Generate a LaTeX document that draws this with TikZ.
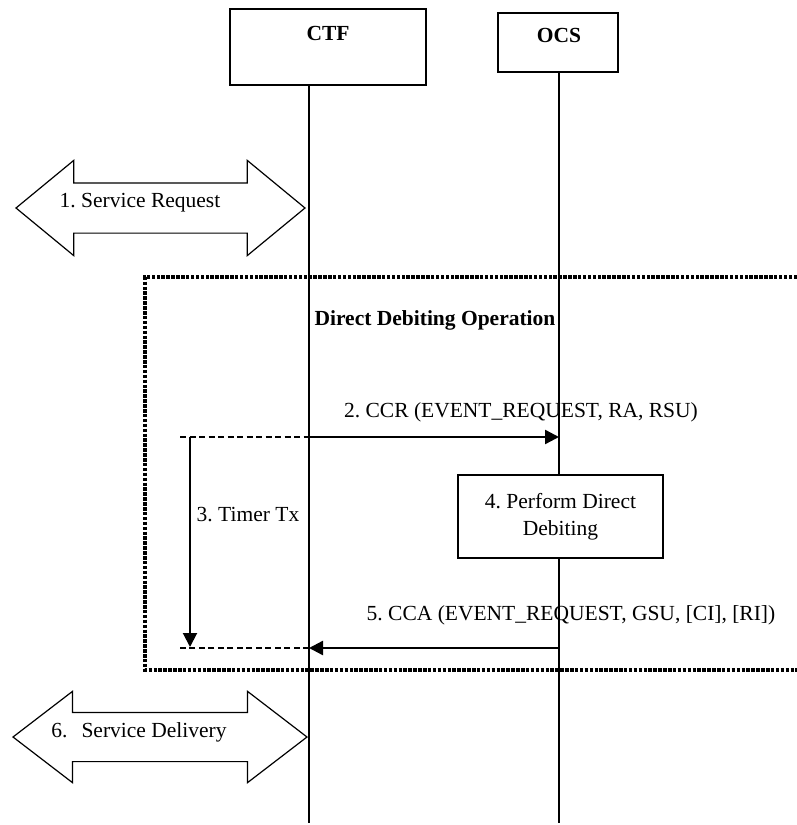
\documentclass[tikz,border=0pt]{standalone}
\usepackage{fontspec}
\setmainfont{Liberation Serif}
\usepackage{tikz}
\usetikzlibrary{shapes.arrows, arrows.meta, positioning}
\frenchspacing

\begin{document}
\begin{tikzpicture}[
    x=1pt, y=-1pt,
    font=\fontsize{21.5}{27}\selectfont,
    entity/.style={draw, line width=1.2pt, fill=white, inner sep=0pt},
    lifeline/.style={line width=1.2pt},
    biarrow/.style={double arrow, draw, line width=1.2pt, inner xsep=0pt},
    msg/.style={line width=2.4pt, -{Triangle[length=14pt, width=14pt]}},
    pending/.style={line width=2pt, dash pattern=on 6pt off 3.5pt},
    frame/.style={line width=3.2pt, dash pattern=on 3.5pt off 1.4pt}
]
\useasboundingbox (0,0) rectangle (797,825);

% Entities and lifelines
\node[entity, minimum width=196pt, minimum height=76pt] (ctf) at (328,47) {};
\node[font=\fontsize{21.5}{27}\selectfont\bfseries] (ctftxt) at (328,33) {CTF};
\node[entity, minimum width=120pt, minimum height=59pt] (ocs) at (558,42.5) {};
\node[font=\fontsize{21.5}{27}\selectfont\bfseries] (ocstxt) at (559,35) {OCS};

\coordinate (ctfend) at (309,823);
\coordinate (ocsend) at (559,823);
\draw[lifeline] (ctf.south -| ctfend) -- (ctfend);
\draw[lifeline] (ocs.south -| ocsend) -- (ocsend);

% Service request
\node[biarrow, minimum height=289pt, inner ysep=24.5pt,
      double arrow head extend=22.5pt, double arrow tip angle=79] (req) at (160.5,208) {};
\node (reqtxt) at (140,203) {1. Service Request};

% Direct debiting frame
\draw[frame] (797,277) -- (145,277) -- (145,670) -- (797,670);
\node[font=\fontsize{21.5}{27}\selectfont\bfseries] (ddo) at (435,320) {Direct Debiting Operation};

% CCR
\coordinate (t1) at (180,437);
\coordinate (c1) at (ctfend |- t1);
\coordinate (o1) at (ocsend |- t1);
\draw[pending] (t1) -- (c1);
\draw[msg] (c1) -- (o1);
\node (ccr) at (521,412) {2. CCR (EVENT\_REQUEST, RA, RSU)};

% Timer
\coordinate (tx1) at (190,437);
\coordinate (tx2) at (190,647);
\draw[msg, line width=2pt] (tx1) -- (tx2);
\node (timer) at (248,515) {3. Timer Tx};

% Debiting
\node[entity, minimum width=205pt, minimum height=83pt, align=center] (debit) at (560.5,516.5)
    {4. Perform Direct\\Debiting};

% CCA
\coordinate (t2) at (180,648);
\coordinate (c2) at (ctfend |- t2);
\coordinate (o2) at (ocsend |- t2);
\draw[msg] (o2) -- (c2);
\draw[pending] (c2) -- (t2);
\node (cca) at (571,615) {5. CCA (EVENT\_REQUEST, GSU, [CI], [RI])};

% Service delivery
\node[biarrow, minimum height=294pt, inner ysep=24pt,
      double arrow head extend=21pt, double arrow tip angle=75] (deliv) at (160,737) {};
\node (delivtxt) at (139,732) {6.\hspace{14pt}Service Delivery};

\end{tikzpicture}
\end{document}
